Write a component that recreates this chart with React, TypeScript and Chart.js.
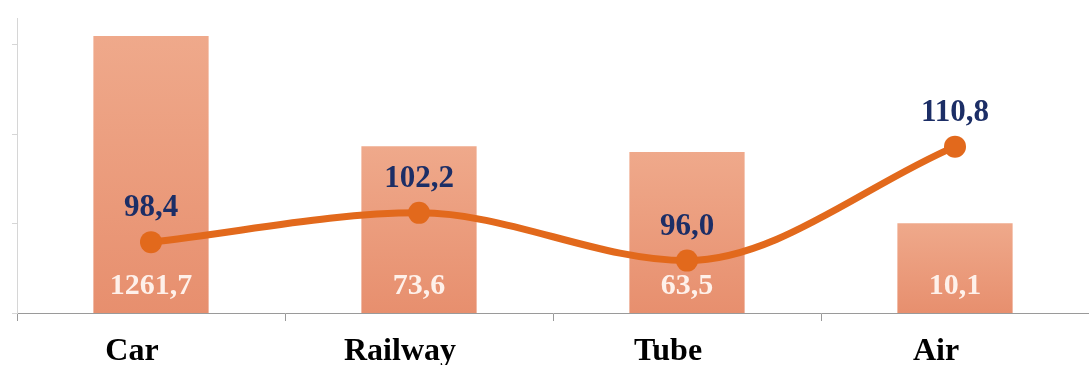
import React, { useEffect, useRef } from "react";
import { Chart, registerables } from "chart.js";

Chart.register(...registerables);

const categories = ["Car", "Railway", "Tube", "Air"];
const barValues = [1261.7, 73.6, 63.5, 10.1];
const lineValues = [98.4, 102.2, 96.0, 110.8];
const logTickValues = [1, 10, 100, 1000];

const fmt = (v: number) => v.toFixed(1).replace(".", ",");

const SERIF = "'Liberation Serif', 'Times New Roman', serif";

const labelPlugin = {
  id: "valueLabels",
  afterDatasetsDraw(chart: any) {
    const ctx = chart.ctx;
    const lineMeta = chart.getDatasetMeta(0);
    const barMeta = chart.getDatasetMeta(1);
    ctx.save();
    ctx.font = `bold 30px ${SERIF}`;
    ctx.textAlign = "center";
    ctx.textBaseline = "middle";
    barMeta.data.forEach((el: any, i: number) => {
      ctx.fillStyle = "rgba(255,246,240,0.95)";
      ctx.fillText(fmt(barValues[i]), el.x, el.base - 27);
    });
    ctx.font = `bold 31px ${SERIF}`;
    lineMeta.data.forEach((el: any, i: number) => {
      ctx.fillStyle = "#1C2E66";
      ctx.fillText(fmt(lineValues[i]), el.x, el.y - 34);
    });
    ctx.restore();
  },
};

export default function App() {
  const canvasRef = useRef<HTMLCanvasElement | null>(null);

  useEffect(() => {
    if (!canvasRef.current) return;
    const chart = new Chart(canvasRef.current, {
      type: "bar",
      data: {
        labels: categories,
        datasets: [
          {
            type: "line",
            data: lineValues,
            yAxisID: "y2",
            borderColor: "#E2691C",
            backgroundColor: "#E2691C",
            borderWidth: 7,
            pointRadius: 11,
            pointBorderWidth: 0,
            pointBackgroundColor: "#E2691C",
            cubicInterpolationMode: "monotone",
            fill: false,
          } as any,
          {
            type: "bar",
            data: barValues,
            yAxisID: "y",
            barPercentage: 0.43,
            categoryPercentage: 1,
            backgroundColor: (c: any) => {
              const ch = c.chart;
              const area = ch.chartArea;
              if (!area || c.raw == null) return "#EBA083";
              const top = ch.scales.y.getPixelForValue(c.raw);
              const g = ch.ctx.createLinearGradient(0, top, 0, area.bottom);
              g.addColorStop(0, "#EFA98B");
              g.addColorStop(1, "#E78F6E");
              return g;
            },
            borderWidth: 0,
          } as any,
        ],
      },
      options: {
        animation: false,
        responsive: false,
        maintainAspectRatio: false,
        layout: { padding: { left: 12, top: 18, right: 0, bottom: 2 } },
        plugins: {
          legend: { display: false },
          tooltip: { enabled: false },
        },
        scales: {
          x: {
            type: "category",
            offset: true,
            grid: {
              offset: true,
              drawOnChartArea: false,
              drawTicks: true,
              tickLength: 8,
              color: "#9a9a9a",
            },
            border: { display: true, color: "#9a9a9a", width: 1 },
            ticks: {
              color: "#000",
              padding: 15,
              labelOffset: -19,
              font: { family: SERIF, weight: "bold", size: 32, lineHeight: 1 },
            },
          },
          y: {
            type: "logarithmic",
            position: "left",
            min: 1,
            max: 2000,
            grid: {
              drawOnChartArea: false,
              drawTicks: true,
              tickLength: 5,
              color: "#d6d6d6",
            },
            border: { display: true, color: "#d6d6d6", width: 1 },
            ticks: { display: false },
            afterBuildTicks: (axis: any) => {
              axis.ticks = logTickValues.map((v) => ({ value: v }));
            },
          },
          y2: {
            type: "linear",
            display: false,
            min: 89.2,
            max: 127.5,
          },
        },
      } as any,
      plugins: [labelPlugin],
    });
    return () => chart.destroy();
  }, []);

  return (
    <div
      style={{
        position: "fixed",
        left: 0,
        top: 0,
        width: 1089,
        height: 365,
        overflow: "hidden",
        background: "#fff",
      }}
    >
      <canvas
        ref={canvasRef}
        width={1100}
        height={385}
        style={{ display: "block", width: 1100, height: 385 }}
      />
    </div>
  );
}
